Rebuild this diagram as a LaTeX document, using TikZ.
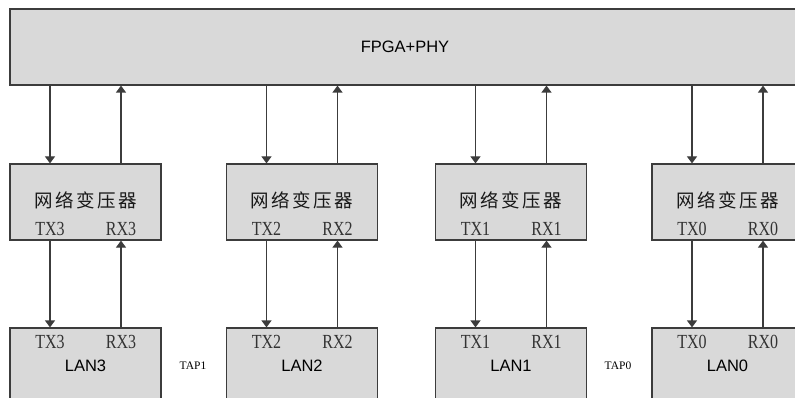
\documentclass[tikz,border=0pt]{standalone}
\usepackage{fontspec}
\setmainfont{Liberation Serif}
\newfontfamily\cjkfont[LetterSpace=14]{Noto Sans CJK SC}
\newfontfamily\hdfont{Liberation Sans}
\newfontfamily\pinfont[FakeStretch=0.8]{Liberation Serif}
\usetikzlibrary{arrows.meta}
\definecolor{boxgray}{HTML}{D9D9D9}
\definecolor{linegray}{HTML}{3C3C3C}

\begin{document}
\begin{tikzpicture}[x=1pt,y=-1pt,
    block/.style={draw=linegray,line width=1.2pt,fill=boxgray,minimum width=151pt,minimum height=76pt,inner sep=0pt},
    title/.style={font=\cjkfont\fontsize{18.5}{18.5}\selectfont,text=black!90,inner sep=0pt},
    pinlbl/.style={font=\pinfont\fontsize{20}{20}\selectfont,text=black!80,inner sep=0pt},
    hdlbl/.style={font=\hdfont\fontsize{16.5}{16.5}\selectfont,text=black,inner sep=0pt},
    sig/.style={draw=linegray,line width=1.2pt,-{Triangle[width=10pt,length=7pt]}}]
    \useasboundingbox (0,0) rectangle (795,398);
    \node[block,minimum width=790pt] (fpga) at (405,47) {};
    \node[hdlbl] (fpgalbl) at (405,47) {FPGA+PHY};
    \foreach \n/\cx in {3/85.5,2/302,1/511,0/727.5}{
        \node[block] (tr\n) at (\cx,202) {}; \node[block] (lan\n) at (\cx,366) {};
        \node[title] (trt\n) at (\cx,200) {网络变压器};
        \node[pinlbl] (ttx\n) at (\cx-35.5,229) {TX\n}; \node[pinlbl] (trx\n) at (\cx+35.5,229) {RX\n};
        \node[pinlbl] (ltx\n) at (\cx-35.5,342) {TX\n}; \node[pinlbl] (lrx\n) at (\cx+35.5,342) {RX\n};
        \node[hdlbl] (lant\n) at (\cx,366) {LAN\n};
        \draw[sig] (fpga.south -| ttx\n) -- (tr\n.north -| ttx\n);
        \draw[sig] (tr\n.north -| trx\n) -- (fpga.south -| trx\n);
        \draw[sig] (tr\n.south -| ttx\n) -- (lan\n.north -| ttx\n);
        \draw[sig] (lan\n.north -| trx\n) -- (tr\n.south -| trx\n);
    }
    \node[font=\fontsize{11.5}{11.5}\selectfont] (tap1) at (193,366) {TAP1};
    \node[font=\fontsize{11.5}{11.5}\selectfont] (tap0) at (618,366) {TAP0};
\end{tikzpicture}
\end{document}
